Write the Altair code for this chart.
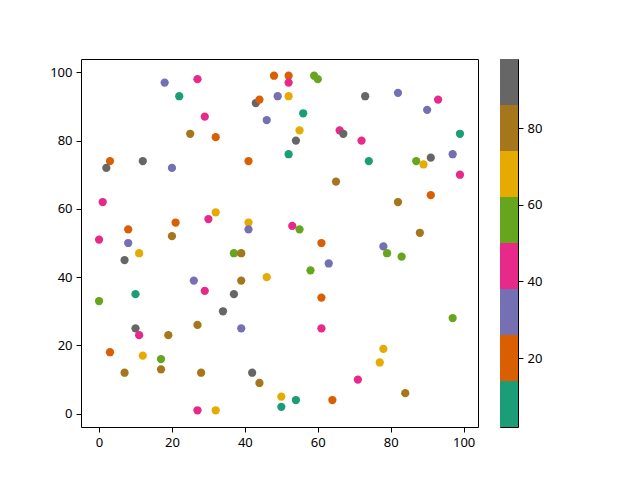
import pandas as pd
import altair as alt

# points: x, y and the colour value (bin centre of the colour seen)
x_vals = [18, 27, 22, 29, 25, 32, 48, 52, 52, 43, 44, 49, 52, 46, 52, 3, 2, 12, 20, 41,
          1, 32, 30, 8, 21, 41, 41, 0, 8, 20, 59, 60, 56, 73, 82, 93, 90, 55, 54, 66,
          67, 72, 99, 74, 87, 89, 91, 97, 99, 65, 91, 82, 53, 55, 88, 61, 11, 7, 37, 39,
          46, 26, 39, 29, 37, 10, 0, 34, 27, 39, 10, 11, 19, 3, 12, 17, 17, 7, 28, 42,
          44, 50, 50, 27, 32, 78, 79, 83, 63, 58, 61, 97, 61, 78, 77, 71, 84, 54, 64]
y_vals = [97, 98, 93, 87, 82, 81, 99, 99, 97, 91, 92, 93, 93, 86, 76, 74, 72, 74, 72, 74,
          62, 59, 57, 54, 56, 56, 54, 51, 50, 52, 99, 98, 88, 93, 94, 92, 89, 83, 80, 83,
          82, 80, 82, 74, 74, 73, 75, 76, 70, 68, 64, 62, 55, 54, 53, 50, 47, 45, 47, 47,
          40, 39, 39, 36, 35, 35, 33, 30, 26, 25, 25, 23, 23, 18, 17, 16, 13, 12, 12, 12,
          9, 5, 2, 1, 1, 49, 47, 46, 44, 42, 34, 28, 25, 19, 15, 10, 6, 4, 4]
c_vals = [32, 44, 8, 44, 80, 20, 20, 20, 44, 92, 20, 32, 68, 32, 8, 20, 92, 92, 32, 20,
          44, 68, 44, 20, 20, 68, 32, 44, 32, 80, 56, 56, 8, 92, 32, 44, 32, 68, 92, 44,
          92, 44, 8, 8, 56, 68, 92, 32, 44, 80, 20, 80, 44, 56, 80, 20, 68, 92, 56, 80,
          68, 32, 80, 44, 92, 8, 56, 92, 80, 32, 92, 44, 80, 20, 68, 56, 80, 80, 80, 92,
          80, 68, 8, 44, 68, 32, 56, 56, 32, 56, 20, 56, 44, 68, 68, 44, 80, 8, 20]

dark2 = ["#1b9e77", "#d95f02", "#7570b3", "#e7298a",
         "#66a61e", "#e6ab02", "#a6761d", "#666666"]
c_min, c_max = 2, 98
axis_ticks = [0, 20, 40, 60, 80, 100]
cbar_ticks = [20, 40, 60, 80]

df = pd.DataFrame({"x": x_vals, "y": y_vals, "c": c_vals})

# colorbar: one block per colour of the map
step = (c_max - c_min) / len(dark2)
df_bar = pd.DataFrame({
    "lo": [c_min + i * step for i in range(len(dark2))],
    "hi": [c_min + (i + 1) * step for i in range(len(dark2))],
    "color": dark2,
})

font = "Noto Sans"
axis_style = dict(grid=False, domain=False, tickColor="black", tickSize=5, tickWidth=1,
                  labelFont=font, labelFontSize=13, labelColor="black",
                  labelPadding=4, title=None)

scatter = alt.Chart(df).mark_circle(size=68, opacity=1).encode(
    x=alt.X("x:Q", scale=alt.Scale(domain=[-4.95, 103.95], nice=False, zero=False),
            axis=alt.Axis(values=axis_ticks, **axis_style)),
    y=alt.Y("y:Q", scale=alt.Scale(domain=[-3.9, 103.9], nice=False, zero=False),
            axis=alt.Axis(values=axis_ticks, **axis_style)),
    color=alt.Color("c:Q", scale=alt.Scale(type="quantize", domain=[c_min, c_max],
                                           range=dark2, nice=False), legend=None),
).properties(width=397, height=368)

cbar = alt.Chart(df_bar).mark_rect().encode(
    y=alt.Y("lo:Q", scale=alt.Scale(domain=[c_min, c_max], nice=False, zero=False),
            axis=alt.Axis(orient="right", values=cbar_ticks, **axis_style)),
    y2="hi:Q",
    color=alt.Color("color:N", scale=None),
).properties(width=18, height=368)

chart = alt.hconcat(scatter, cbar, spacing=20).configure_view(
    stroke="black", strokeWidth=1
).properties(
    padding={"left": 41, "top": 50, "right": 5, "bottom": 5},
    background="white",
)

chart.save("out.html", embed_options={"renderer": "svg", "actions": False})
